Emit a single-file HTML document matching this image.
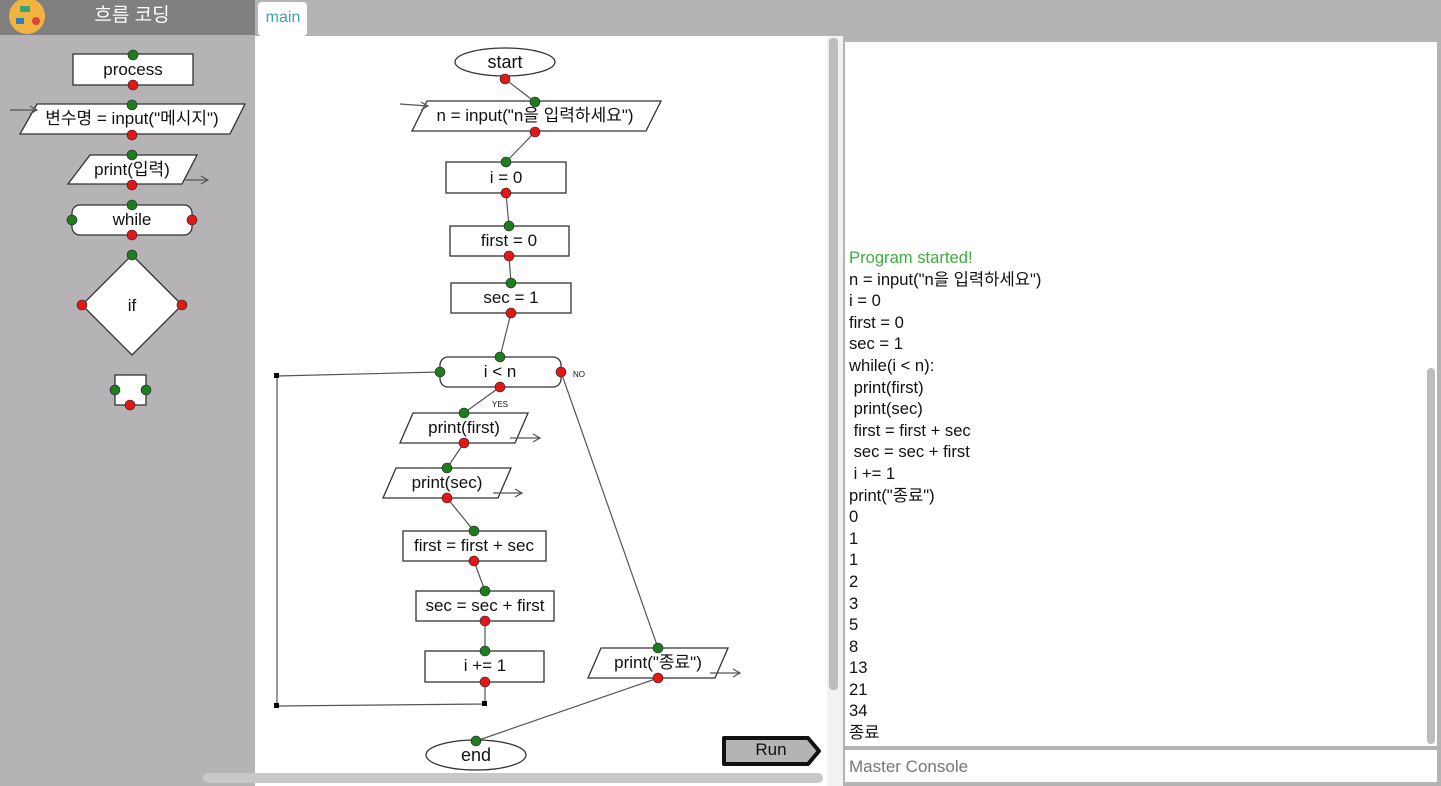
<!DOCTYPE html>
<html><head><meta charset="utf-8"><style>
body{margin:0;width:1441px;height:786px;overflow:hidden;background:#b5b3b5;font-family:"Liberation Sans","Noto Sans CJK KR",sans-serif;}
svg{position:absolute;left:0;top:0}
.c{position:absolute;left:849px;top:247px;font-size:16.6px;line-height:21.6px;color:#111;white-space:pre}
</style></head><body>
<svg width="1441" height="786" viewBox="0 0 1441 786" font-family="Liberation Sans, Noto Sans CJK KR, sans-serif">
<rect x="0" y="0" width="255" height="35" fill="#808080"/>
<rect x="255" y="0" width="1186" height="36" fill="#b5b3b5"/>
<rect x="258" y="2" width="49" height="34" rx="4" fill="#fff"/>
<text x="283" y="22" font-size="16" fill="#3aa7b0" text-anchor="middle">main</text>
<circle cx="27" cy="16" r="18" fill="#f2b441"/>
<rect x="20" y="6" width="10" height="6" fill="#3aa37a"/><rect x="16" y="18" width="8" height="6" fill="#2e7fc2"/><circle cx="36" cy="21" r="4" fill="#e0433b"/>
<text x="132" y="21" font-size="19" fill="#fff" text-anchor="middle">흐름 코딩</text>
<rect x="255" y="36" width="572" height="750" fill="#fff"/>
<rect x="827" y="36" width="16" height="750" fill="#f2f2f2"/>
<rect x="829" y="38" width="9" height="652" rx="4" fill="#bdbdbd"/>
<rect x="203" y="773" width="620" height="10" rx="5" fill="#c8c8c8"/>
<rect x="845" y="42" width="592" height="704" fill="#fff"/>
<rect x="1427" y="368" width="8" height="376" rx="4" fill="#bdbdbd"/>
<rect x="845" y="750" width="592" height="32" fill="#fff"/>
<text x="849" y="772" font-size="17" fill="#777">Master Console</text>
<g stroke="#333" stroke-width="1.3" fill="#fff">
<rect x="73" y="54" width="120" height="31"/>
<polygon points="37,104 245,104 230,134 20,134"/>
<polygon points="90,155 197,155 182,184 68,184"/>
<rect x="72" y="205" width="120" height="30" rx="8"/>
<polygon points="132,255 182,305 132,355 82,305"/>
<rect x="115" y="375" width="31" height="30"/>
<ellipse cx="505" cy="62" rx="50" ry="14"/>
<polygon points="427,101 661,101 646,131 412,131"/>
<rect x="446" y="162" width="120" height="31"/>
<rect x="450" y="226" width="119" height="30"/>
<rect x="451" y="283" width="120" height="30"/>
<rect x="440" y="357" width="121" height="30" rx="8"/>
<polygon points="413,413 528,413 515,443 400,443"/>
<polygon points="396,468 511,468 498,498 383,498"/>
<rect x="403" y="531" width="143" height="30"/>
<rect x="416" y="591" width="138" height="30"/>
<rect x="425" y="651" width="119" height="31"/>
<polygon points="601,648 728,648 715,678 588,678"/>
<ellipse cx="476" cy="755" rx="50" ry="15"/>
</g>
<g stroke="#555" stroke-width="1.2" fill="none">
<path d="M10,110 H37 M30,106 L37,110 L30,114"/>
<path d="M185,180 H208 M201,176 L208,180 L201,184"/>
<path d="M400,104 L428,106 M421,102 L428,106 L421,110"/>
<path d="M510,438 H540 M533,434 L540,438 L533,442"/>
<path d="M493,493 H522 M515,489 L522,493 L515,497"/>
<path d="M710,673 H740 M733,669 L740,673 L733,677"/>
<path d="M505,79 L535,102 M535,132 L506,162 M506,193 L509,226 M509,256 L511,283 M511,313 L500,357 M500,387 L464,413 M464,443 L447,468 M447,498 L474,531 M474,561 L485,591 M485,621 L485,651 M485,682 L485,704 L277,706 L277,376 L440,372 M561,372 L658,648 M658,678 L476,741"/>
</g>
<g fill="#000"><rect x="274" y="373" width="5" height="5"/><rect x="274" y="703" width="5" height="5"/><rect x="482" y="701" width="5" height="5"/></g>
<g font-size="17" fill="#111" text-anchor="middle">
<text x="133" y="75">process</text>
<text x="132" y="124">변수명 = input("메시지")</text>
<text x="132" y="175">print(입력)</text>
<text x="132" y="225">while</text>
<text x="132" y="311">if</text>
<text x="505" y="68" font-size="18">start</text>
<text x="535" y="121">n = input("n을 입력하세요")</text>
<text x="506" y="183">i = 0</text>
<text x="509" y="246">first = 0</text>
<text x="511" y="303">sec = 1</text>
<text x="500" y="377">i &lt; n</text>
<text x="464" y="433">print(first)</text>
<text x="447" y="488">print(sec)</text>
<text x="474" y="551">first = first + sec</text>
<text x="485" y="611">sec = sec + first</text>
<text x="485" y="671">i += 1</text>
<text x="658" y="668">print("종료")</text>
<text x="476" y="761" font-size="18">end</text>
<text x="579" y="377" font-size="8">NO</text>
<text x="500" y="407" font-size="8">YES</text>
</g>
<g fill="#1e7d1e" stroke="#222" stroke-width="0.6">
<circle cx="133" cy="55" r="5"/><circle cx="132" cy="105" r="5"/><circle cx="132" cy="155" r="5"/><circle cx="132" cy="205" r="5"/><circle cx="72" cy="220" r="5"/><circle cx="132" cy="255" r="5"/><circle cx="115" cy="390" r="5"/><circle cx="146" cy="390" r="5"/>
<circle cx="535" cy="102" r="5"/><circle cx="506" cy="162" r="5"/><circle cx="509" cy="226" r="5"/><circle cx="511" cy="283" r="5"/><circle cx="500" cy="357" r="5"/><circle cx="440" cy="372" r="5"/><circle cx="464" cy="413" r="5"/><circle cx="447" cy="468" r="5"/><circle cx="474" cy="531" r="5"/><circle cx="485" cy="591" r="5"/><circle cx="485" cy="651" r="5"/><circle cx="658" cy="648" r="5"/><circle cx="476" cy="741" r="5"/>
</g>
<g fill="#e01818" stroke="#222" stroke-width="0.6">
<circle cx="133" cy="85" r="5"/><circle cx="132" cy="135" r="5"/><circle cx="132" cy="185" r="5"/><circle cx="192" cy="220" r="5"/><circle cx="132" cy="235" r="5"/><circle cx="82" cy="305" r="5"/><circle cx="182" cy="305" r="5"/><circle cx="130" cy="405" r="5"/>
<circle cx="505" cy="79" r="5"/><circle cx="535" cy="132" r="5"/><circle cx="506" cy="193" r="5"/><circle cx="509" cy="256" r="5"/><circle cx="511" cy="313" r="5"/><circle cx="561" cy="372" r="5"/><circle cx="500" cy="387" r="5"/><circle cx="464" cy="443" r="5"/><circle cx="447" cy="498" r="5"/><circle cx="474" cy="561" r="5"/><circle cx="485" cy="621" r="5"/><circle cx="485" cy="682" r="5"/><circle cx="658" cy="678" r="5"/>
</g>
<polygon points="724,738 808,738 819,751 808,764 724,764" fill="#b5b3b5" stroke="#111" stroke-width="4" stroke-linejoin="round"/>
<text x="771" y="755" font-size="17" text-anchor="middle" fill="#111">Run</text>
</svg>
<div class="c"><span style="color:#3cae3c">Program started!</span>
n = input("n을 입력하세요")
i = 0
first = 0
sec = 1
while(i &lt; n):
 print(first)
 print(sec)
 first = first + sec
 sec = sec + first
 i += 1
print("종료")
0
1
1
2
3
5
8
13
21
34
종료</div>
</body></html>
